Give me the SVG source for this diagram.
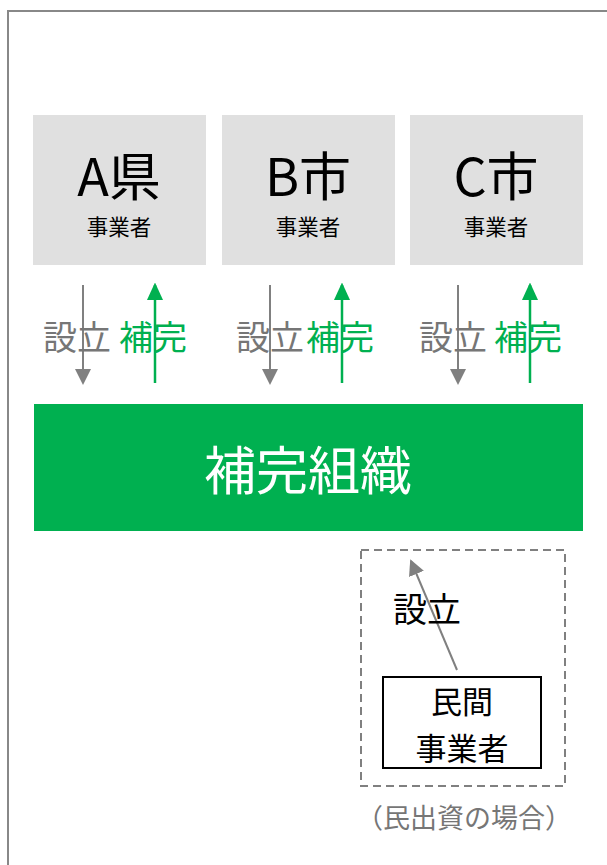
<svg xmlns="http://www.w3.org/2000/svg" width="607" height="865" viewBox="0 0 607 865">
<style>
text{font-family:"Noto Sans CJK JP","Noto Sans",sans-serif}
.box{fill:#e0e0e0}
.big{font-size:52px;fill:#000;text-anchor:middle}
.sub{font-size:21.5px;fill:#000;text-anchor:middle}
.lbl{font-size:34px}
.gray{fill:#767676}
.green{fill:#00b050}
.ga{stroke:#808080;stroke-width:2;fill:none}
.gr{stroke:#00b050;stroke-width:2.5;fill:none}
</style>
<defs>
<marker id="ag" markerWidth="8" markerHeight="8" refX="7" refY="4" orient="auto" markerUnits="strokeWidth"><path d="M0,0 L8,4 L0,8 Z" fill="#808080"/></marker>
<marker id="agr" markerWidth="7" markerHeight="6.4" refX="6" refY="3.2" orient="auto" markerUnits="strokeWidth"><path d="M0,0 L7,3.2 L0,6.4 Z" fill="#00b050"/></marker>
</defs>
<rect x="8" y="11" width="700" height="900" fill="none" stroke="#888" stroke-width="2"/>
<g id="nodeA"><rect class="box" x="33" y="115" width="173" height="150"/><text class="big" x="119" y="196">A県</text><text class="sub" x="119" y="235">事業者</text></g>
<g id="nodeB"><rect class="box" x="222" y="115" width="173" height="150"/><text class="big" x="308" y="196">B市</text><text class="sub" x="308" y="235">事業者</text></g>
<g id="nodeC"><rect class="box" x="410" y="115" width="173" height="150"/><text class="big" x="496" y="196">C市</text><text class="sub" x="496" y="235">事業者</text></g>
<g id="org"><rect x="34" y="404" width="549" height="127" fill="#00b050"/><text x="308" y="490" font-size="52" fill="#fff" text-anchor="middle">補完組織</text></g>
<g id="private"><rect x="361" y="550" width="204" height="236" fill="none" stroke="#808080" stroke-width="2" stroke-dasharray="8,5"/><rect x="383" y="677" width="158" height="91" fill="#fff" stroke="#000" stroke-width="2"/><text x="462" y="713" font-size="31" text-anchor="middle">民間</text><text x="462" y="760" font-size="31" text-anchor="middle">事業者</text><text x="464" y="828" font-size="27" fill="#767676" text-anchor="middle">（民出資の場合）</text></g>
<g id="connectors">
<line class="ga" x1="83" y1="285" x2="83" y2="383" marker-end="url(#ag)"/>
<line class="gr" x1="155" y1="383" x2="155" y2="285" marker-end="url(#agr)"/>
<line class="ga" x1="270" y1="285" x2="270" y2="383" marker-end="url(#ag)"/>
<line class="gr" x1="342" y1="383" x2="342" y2="285" marker-end="url(#agr)"/>
<line class="ga" x1="458" y1="285" x2="458" y2="383" marker-end="url(#ag)"/>
<line class="gr" x1="530" y1="383" x2="530" y2="285" marker-end="url(#agr)"/>
<line class="ga" x1="457" y1="670" x2="411" y2="561" marker-end="url(#ag)"/>
<text class="lbl gray" x="43" y="350">設立</text><text class="lbl green" x="119" y="350">補完</text>
<text class="lbl gray" x="236" y="350">設立</text><text class="lbl green" x="306" y="350">補完</text>
<text class="lbl gray" x="419" y="350">設立</text><text class="lbl green" x="494" y="350">補完</text>
<text class="lbl" x="393" y="622">設立</text>
</g>
</svg>
